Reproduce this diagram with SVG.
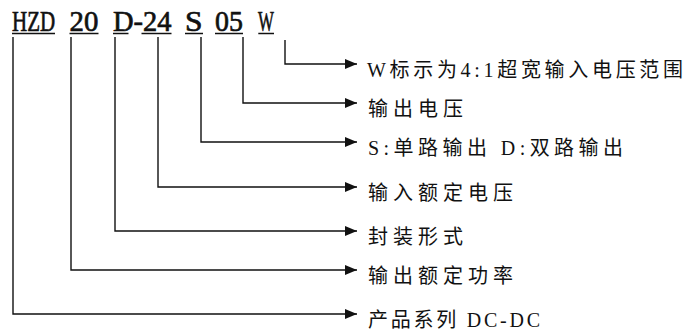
<svg xmlns="http://www.w3.org/2000/svg" width="690" height="331" viewBox="0 0 690 331">
<style>
.code{font-family:"Liberation Serif","Times New Roman",serif;font-size:30px;fill:#111;stroke:#111;stroke-width:0.7}
.ul{stroke:#111;stroke-width:1.5}
.lbl{font-family:"Liberation Serif","Noto Sans CJK SC",serif;font-size:20px;fill:#111}
.con{fill:none;stroke:#111;stroke-width:1.4}
</style>
<defs>
<marker id="arr" markerUnits="userSpaceOnUse" markerWidth="13" markerHeight="11" refX="12" refY="5.5" orient="auto">
<path d="M0,0.5 L12,5.5 L0,10.5 Z" fill="#111"/>
</marker>
</defs>
<rect width="690" height="331" fill="#fff"/>
<g id="code">
<g id="seg-HZD"><text class="code" transform="translate(12,31) scale(0.70,1)">HZD</text><line class="ul" x1="12" y1="33.5" x2="55" y2="33.5"/></g>
<g id="seg-20"><text class="code" transform="translate(69.5,31) scale(0.96,1)">20</text><line class="ul" x1="69.5" y1="33.5" x2="98.5" y2="33.5"/></g>
<g id="seg-D24"><text class="code" transform="translate(113,31) scale(0.95,1)">D-24</text><line class="ul" x1="113" y1="33.5" x2="128.5" y2="33.5"/><line class="ul" x1="141.5" y1="33.5" x2="171.5" y2="33.5"/></g>
<g id="seg-S"><text class="code" transform="translate(185,31) scale(1.05,1)">S</text><line class="ul" x1="185" y1="33.5" x2="203" y2="33.5"/></g>
<g id="seg-05"><text class="code" transform="translate(215,31) scale(0.93,1)">05</text><line class="ul" x1="215" y1="33.5" x2="243" y2="33.5"/></g>
<g id="seg-W"><text class="code" transform="translate(258,31) scale(0.56,1)">W</text><line class="ul" x1="258.3" y1="33.5" x2="274" y2="33.5"/></g>
</g>
<g id="connectors">
<polyline class="con" points="285,40 285,64 357,64" marker-end="url(#arr)"/>
<polyline class="con" points="243,37 243,103 357,103" marker-end="url(#arr)"/>
<polyline class="con" points="201,37 201,142 357,142" marker-end="url(#arr)"/>
<polyline class="con" points="158,37 158,187 357,187" marker-end="url(#arr)"/>
<polyline class="con" points="115,37 115,231 357,231" marker-end="url(#arr)"/>
<polyline class="con" points="71,37 71,270 357,270" marker-end="url(#arr)"/>
<polyline class="con" points="13,37 13,314 357,314" marker-end="url(#arr)"/>
</g>
<g id="label-W"><text class="lbl" x="367" y="77" textLength="316">W标示为4:1超宽输入电压范围</text></g>
<g id="label-05"><text class="lbl" x="368" y="116" textLength="95">输出电压</text></g>
<g id="label-S"><text class="lbl" x="368" y="155" textLength="255">S:单路输出 D:双路输出</text></g>
<g id="label-24"><text class="lbl" x="368" y="200" textLength="145">输入额定电压</text></g>
<g id="label-D"><text class="lbl" x="368" y="244" textLength="95">封装形式</text></g>
<g id="label-20"><text class="lbl" x="368" y="283" textLength="145">输出额定功率</text></g>
<g id="label-HZD"><text class="lbl" x="368" y="327" textLength="172">产品系列 DC-DC</text></g>
</svg>
